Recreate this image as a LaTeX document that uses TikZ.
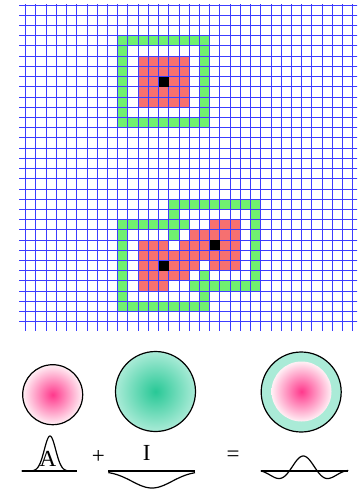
\documentclass[tikz,border=0pt]{standalone}
\usepackage{fontspec}
\setmainfont{Liberation Serif}
\usetikzlibrary{positioning}
\definecolor{cellred}{RGB}{246,112,112}
\definecolor{cellgreen}{RGB}{112,240,112}
\definecolor{gridblue}{RGB}{60,60,255}
\definecolor{blobpink}{RGB}{255,56,140}
\definecolor{blobpale}{RGB}{255,240,245}
\definecolor{blobgreen}{RGB}{40,200,150}
\definecolor{blobmint}{RGB}{170,235,215}
\tikzstyle{gridline} = [draw=gridblue, line width=0.9pt]
\tikzstyle{frame} = [fill=cellgreen]
\tikzstyle{region} = [fill=cellred]
\tikzstyle{seed} = [fill=black]
\tikzstyle{blobline} = [draw=black, line width=1.2pt]
\tikzstyle{curve} = [black, line width=1.2pt]
\tikzstyle{label} = [font=\fontsize{23}{23}\selectfont, inner sep=0pt]

\begin{document}
\begin{tikzpicture}[x=1pt, y=-1pt]
\useasboundingbox (0,0) rectangle (357,491);

% Cells
\begin{scope}[shift={(15.5,5)}, x=10.22pt, y=-10.22pt]
\foreach \c in {10,...,18} {
  \fill[frame] (\c,3) rectangle ++(1,1);
  \fill[frame] (\c,11) rectangle ++(1,1);
}
\foreach \r in {4,...,10} {
  \fill[frame] (10,\r) rectangle ++(1,1);
  \fill[frame] (18,\r) rectangle ++(1,1);
}
\fill[region] (12,5) rectangle (17,10);

\foreach \c in {15,...,23} \fill[frame] (\c,19) rectangle ++(1,1);
\foreach \c in {10,...,16} \fill[frame] (\c,21) rectangle ++(1,1);
\foreach \c in {17,...,23} \fill[frame] (\c,27) rectangle ++(1,1);
\foreach \c in {10,...,18} \fill[frame] (\c,29) rectangle ++(1,1);
\foreach \r in {20,...,26} \fill[frame] (23,\r) rectangle ++(1,1);
\foreach \r in {22,...,28} \fill[frame] (10,\r) rectangle ++(1,1);
\foreach \c/\r in {15/20, 15/22, 18/26, 18/28} \fill[frame] (\c,\r) rectangle ++(1,1);
\foreach \r/\from/\to in {21/19/21, 22/17/21, 23/12/14, 23/16/21, 24/12/21,
    25/12/17, 25/19/21, 26/12/16, 27/12/14}
  \fill[region] (\from,\r) rectangle (\to+1,\r+1);
\end{scope}

% Grid
\begin{scope}
\clip (19,4.5) rectangle (357,330);
\begin{scope}[shift={(15.5,5)}, x=10.22pt, y=-10.22pt]
\draw[gridline] \foreach \k in {0,...,34} {(\k,-1) -- (\k,33)};
\draw[gridline] \foreach \j in {0,...,32} {(0,\j) -- (35,\j)};
\foreach \c/\r in {14/7, 14/25, 19/23} \fill[seed] (\c,\r) rectangle ++(1,1);
\end{scope}
\end{scope}

% Blobs
\shade[inner color=blobpink, outer color=blobpale] (52.7,394.7) circle (30pt);
\draw[blobline] (52.7,394.7) circle (30pt);
\shade[inner color=blobgreen, outer color=blobmint] (155.5,391.5) circle (40pt);
\draw[blobline] (155.5,391.5) circle (40pt);
\fill[blobmint] (301.2,392) circle (40pt);
\shade[inner color=blobpink, outer color=blobpale] (301.5,391.5) circle (30pt);
\draw[blobline] (301.2,392) circle (40pt);

% Profiles
\draw[curve] (21.7,471) -- (76.7,471);
\draw[curve] plot[domain=21.7:76.7, samples=90, smooth] (\x, {471 - 35*exp(-((\x-50)^2)/65)});
\draw[curve] (108.3,471) -- (195,471);
\draw[curve] plot[domain=108.3:195, samples=90, smooth] (\x, {471 + 17*exp(-((\x-152)^2)/800)});
\draw[curve] (260.7,471) -- (348.3,471);
\draw[curve] plot[domain=260.7:348.3, samples=100, smooth] (\x, {471 - 15*cos(6.43*(\x-303.3))*exp(-((\x-303.3)^2)/980)});

% Labels
\node[label] (amp) at (48,459) {A};
\node[label] (plus) at (98.3,456.7) {+};
\node[label] (inh) at (146.7,453) {I};
\node[label] (equals) at (233,456.7) {=};

\end{tikzpicture}
\end{document}
